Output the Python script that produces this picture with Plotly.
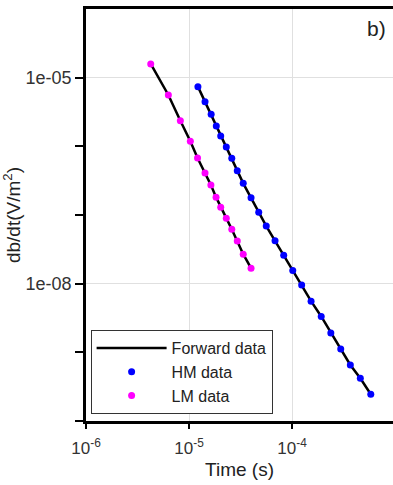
import plotly.graph_objects as go

lm_time = [4.25e-6, 6.30e-6, 8.24e-6, 1.03e-5, 1.21e-5, 1.43e-5, 1.63e-5, 1.83e-5,
           2.03e-5, 2.30e-5, 2.60e-5, 2.94e-5, 3.36e-5, 4.00e-5]
lm_dbdt = [1.585e-5, 5.6e-6, 2.36e-6, 1.19e-6, 6.75e-7, 4.08e-7, 2.73e-7, 1.82e-7,
           1.30e-7, 9.0e-8, 6.2e-8, 4.17e-8, 2.69e-8, 1.68e-8]

hm_time = [1.22e-5, 1.43e-5, 1.64e-5, 1.84e-5, 2.03e-5, 2.30e-5, 2.60e-5, 2.94e-5,
           3.36e-5, 4.00e-5, 4.75e-5, 5.62e-5, 6.84e-5, 8.3e-5, 1.016e-4, 1.24e-4,
           1.53e-4, 1.92e-4, 2.38e-4, 2.97e-4, 3.68e-4, 4.60e-4, 5.81e-4]
hm_dbdt = [7.4e-6, 4.47e-6, 2.93e-6, 1.98e-6, 1.41e-6, 9.77e-7, 6.68e-7, 4.41e-7,
           2.89e-7, 1.78e-7, 1.10e-7, 6.9e-8, 4.21e-8, 2.60e-8, 1.56e-8, 9.6e-9,
           5.56e-9, 3.33e-9, 1.92e-9, 1.12e-9, 6.55e-10, 4.19e-10, 2.45e-10]

x_tickvals = [1e-6, 1e-5, 1e-4]
x_ticktext = ["10<sup>-6</sup>", "10<sup>-5</sup>", "10<sup>-4</sup>"]
y_tickvals = [1e-5, 1e-8]
y_ticktext = ["1e-05", "1e-08"]
y_minor = [1e-10, 1e-9, 1e-7, 1e-6]

FONT = "Liberation Sans, Arial, sans-serif"
TXT = "#222"

fig = go.Figure()
fig.add_trace(go.Scatter(x=hm_time, y=hm_dbdt, mode="lines", line=dict(color="black", width=2.5),
                         name="Forward data", legendgroup="fwd"))
fig.add_trace(go.Scatter(x=lm_time, y=lm_dbdt, mode="lines", line=dict(color="black", width=2.5),
                         name="Forward data", legendgroup="fwd", showlegend=False))
fig.add_trace(go.Scatter(x=hm_time, y=hm_dbdt, mode="markers", name="HM data",
                         marker=dict(color="#0000ff", size=7)))
fig.add_trace(go.Scatter(x=lm_time, y=lm_dbdt, mode="markers", name="LM data",
                         marker=dict(color="#ff00ff", size=7)))

fig.update_layout(
    width=393, height=485,
    margin=dict(l=86, r=0, t=9, b=64),
    paper_bgcolor="white", plot_bgcolor="white",
    font=dict(family=FONT, size=17, color=TXT),
    showlegend=True,
    legend=dict(x=0.015, y=0.017, xanchor="left", yanchor="bottom",
                bgcolor="white", bordercolor="#333", borderwidth=1,
                font=dict(family=FONT, size=16, color=TXT), itemwidth=70,
                tracegroupgap=0),
    annotations=[dict(text="b)", x=0.985, y=0.985, xref="paper", yref="paper",
                      xanchor="right", yanchor="top", showarrow=False,
                      font=dict(family=FONT, size=21, color=TXT))],
)
fig.update_xaxes(type="log", range=[-6, -3.02], tickvals=x_tickvals, ticktext=x_ticktext,
                 ticks="outside", ticklen=5, tickcolor="black", tickwidth=1.5,
                 ticklabelstandoff=5,
                 showline=True, linecolor="black", linewidth=2.5, mirror=True,
                 showgrid=True, gridcolor="#e0e0e0", gridwidth=1, zeroline=False,
                 title=dict(text="Time (s)", font=dict(size=19, color=TXT), standoff=6),
                 tickfont=dict(size=17, color="#333"))
fig.update_yaxes(type="log", range=[-10, -4], tickvals=y_tickvals, ticktext=y_ticktext,
                 ticks="outside", ticklen=8, tickcolor="black", tickwidth=1.5,
                 minor=dict(tickvals=y_minor, ticks="outside", ticklen=8, tickcolor="black",
                            tickwidth=1.5, showgrid=False),
                 showline=True, linecolor="black", linewidth=2.5, mirror=False,
                 showgrid=True, gridcolor="#e0e0e0", gridwidth=1, zeroline=False,
                 title=dict(text="db/dt(V/m<sup>2</sup>)", font=dict(size=19, color=TXT), standoff=8),
                 tickfont=dict(size=18, color="#333"))

fig.write_html("out.html")
